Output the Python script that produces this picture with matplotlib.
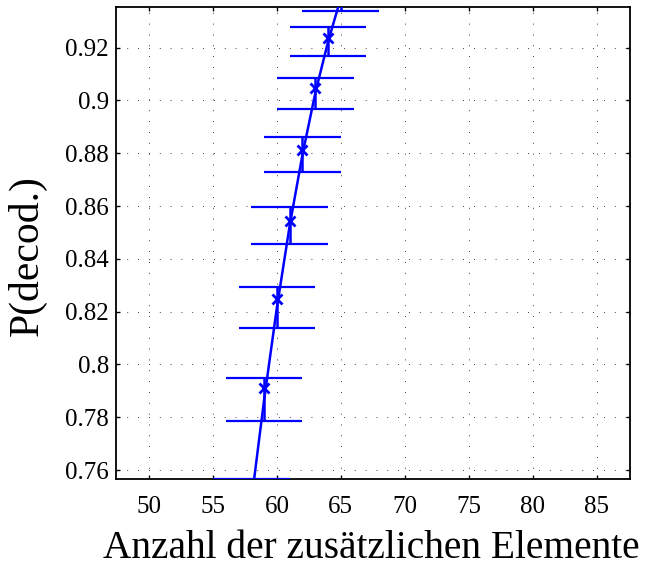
"""
P(decod.) over the number of additional elements, MATLAB-style errorbar plot.
"""

import matplotlib

matplotlib.use("Agg")
import matplotlib.pyplot as plt
from matplotlib.ticker import FuncFormatter, MultipleLocator

# errorbar series (mean and half-height of the bar)
n_extra = [58, 59, 60, 61, 62, 63, 64, 65]
p_mean = [0.7481, 0.7866, 0.8216, 0.8526, 0.8795, 0.9028, 0.9223, 0.9389]
p_err = [0.0086, 0.0081, 0.0076, 0.0071, 0.0066, 0.0059, 0.0054, 0.0050]

# measured points ('x' markers)
n_meas = [59, 60, 61, 62, 63, 64]
p_meas = [0.7909, 0.8247, 0.8544, 0.8812, 0.9046, 0.9236]

CAP_HALF = 3.0  # MATLAB draws caps in data units
BLUE = "#0000ff"

plt.rcParams["font.family"] = ["Liberation Serif", "DejaVu Serif"]

fig = plt.figure(figsize=(6.45, 5.66), dpi=100)
ax = fig.add_axes([0.1794, 0.1532, 0.7973, 0.8339])

ax.errorbar(n_extra, p_mean, yerr=p_err, color=BLUE, linewidth=1.8,
            elinewidth=1.8, capsize=0, zorder=3)
ax.hlines([m + e for m, e in zip(p_mean, p_err)],
          [n - CAP_HALF for n in n_extra], [n + CAP_HALF for n in n_extra],
          color=BLUE, linewidth=1.6, zorder=3)
ax.hlines([m - e for m, e in zip(p_mean, p_err)],
          [n - CAP_HALF for n in n_extra], [n + CAP_HALF for n in n_extra],
          color=BLUE, linewidth=1.6, zorder=3)
ax.plot(n_meas, p_meas, linestyle="none", marker="x", markersize=7,
        markeredgewidth=2, color=BLUE, zorder=4)

ax.set_xlim(47.4, 87.6)
ax.set_ylim(0.7565, 0.9353)
ax.xaxis.set_major_locator(MultipleLocator(5))
ax.yaxis.set_major_locator(MultipleLocator(0.02))
ax.yaxis.set_major_formatter(FuncFormatter(lambda v, _: f"{v:.2f}".rstrip("0")))

ax.grid(True, color="black", linewidth=0.6, linestyle=(0, (1, 12)))
ax.tick_params(direction="in", top=True, right=True, length=3, width=1,
               labelsize=18, colors="black")
ax.tick_params(axis="x", pad=12)
ax.tick_params(axis="y", pad=5)
for s in ax.spines.values():
    s.set_linewidth(1.3)

ax.set_xlabel("Anzahl der zusätzlichen Elemente", fontsize=28.4, va="baseline")
ax.set_ylabel("P(decod.)", fontsize=30)
ax.xaxis.set_label_coords(0.497, -0.167)
ax.yaxis.set_label_coords(-0.134, 0.475)

plt.savefig("out.png", dpi=100)
plt.close()
